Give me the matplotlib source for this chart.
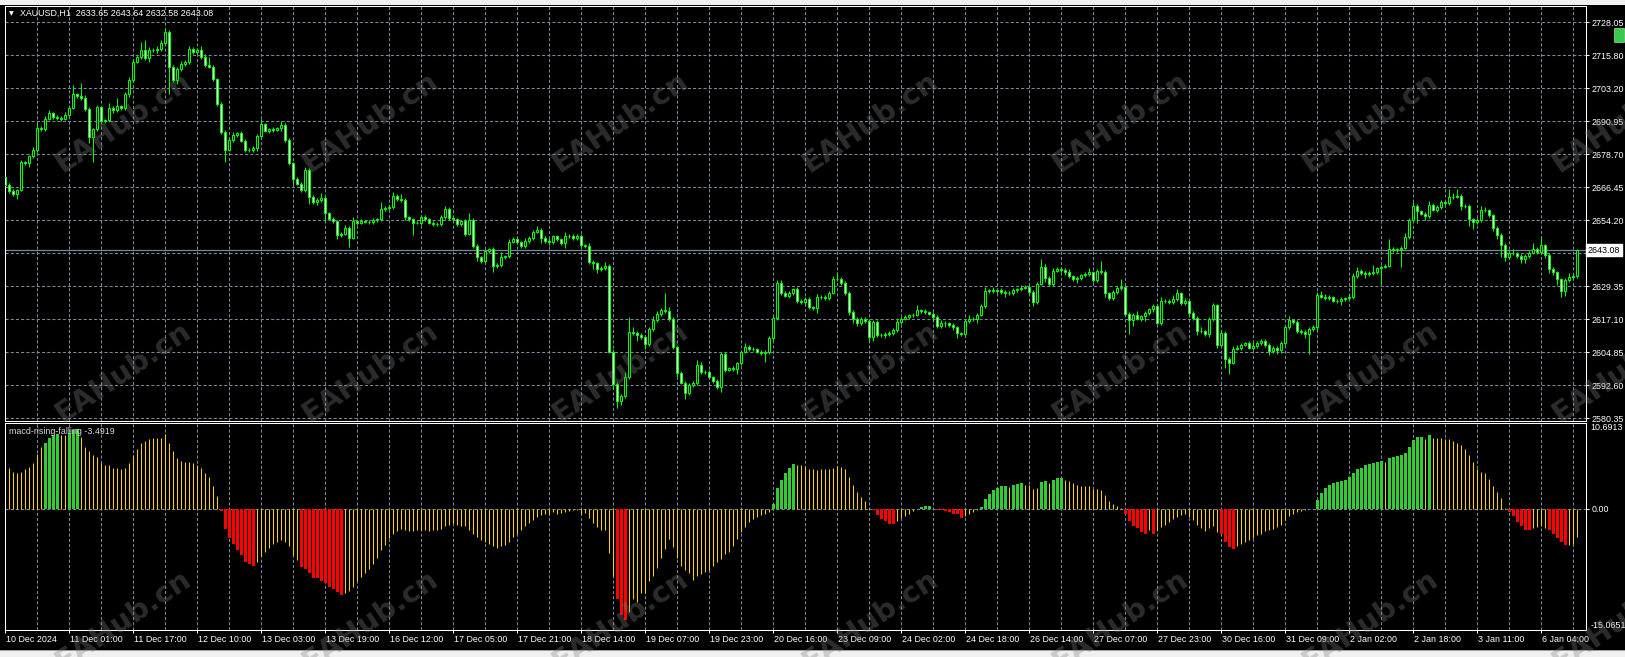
import numpy as np
import matplotlib.pyplot as plt
from matplotlib.patches import Rectangle, FancyBboxPatch

plt.rcParams['font.family'] = ['Liberation Sans', 'DejaVu Sans']

# ---- data (XAUUSD H1, 394 bars) ----
first_open = 2670.4
close = [
    2667.5, 2665.2, 2664.0, 2665.5, 2675.8, 2675.5, 2678.1, 2680.6, 2688.7, 2688.2, 2692.2, 2694.3, 2692.8, 2692.5, 2692.2, 2693.7, 2696.1, 2701.2, 2700.6, 2700.0,
    2695.8, 2685.2, 2688.2, 2696.4, 2691.2, 2691.6, 2696.1, 2695.2, 2696.7, 2696.1, 2701.2, 2706.7, 2713.4, 2715.2, 2717.9, 2714.9, 2717.9, 2717.6, 2718.2, 2720.3,
    2724.6, 2711.4, 2706.4, 2710.6, 2712.5, 2713.4, 2718.2, 2717.0, 2717.9, 2715.2, 2712.2, 2711.5, 2706.9, 2697.8, 2687.2, 2680.6, 2684.1, 2686.1, 2686.7, 2684.0,
    2680.6, 2680.4, 2681.2, 2685.6, 2690.0, 2687.6, 2688.2, 2688.0, 2688.5, 2689.7, 2684.1, 2675.5, 2669.7, 2667.9, 2665.5, 2673.1, 2662.9, 2660.9, 2661.9, 2662.5,
    2656.9, 2654.9, 2653.8, 2648.8, 2649.3, 2651.5, 2647.8, 2653.8, 2653.4, 2654.0, 2653.7, 2653.6, 2654.3, 2654.6, 2658.4, 2658.8, 2659.1, 2663.4, 2662.2, 2661.8,
    2655.3, 2654.6, 2653.4, 2653.3, 2655.5, 2654.6, 2653.4, 2653.0, 2652.9, 2655.5, 2658.5, 2655.2, 2654.6, 2652.8, 2653.8, 2649.3, 2654.3, 2644.7, 2640.6, 2639.1,
    2642.8, 2643.4, 2637.3, 2637.6, 2640.6, 2640.9, 2646.3, 2647.3, 2646.1, 2644.6, 2646.7, 2647.6, 2650.0, 2650.8, 2647.8, 2646.7, 2646.1, 2648.2, 2647.3, 2645.8,
    2648.5, 2648.2, 2647.6, 2648.5, 2645.0, 2644.6, 2638.7, 2638.2, 2636.1, 2636.4, 2637.1, 2605.3, 2593.2, 2586.7, 2588.7, 2595.8, 2612.5, 2612.2, 2611.3, 2610.6,
    2608.2, 2613.7, 2617.0, 2619.4, 2620.6, 2620.3, 2617.6, 2606.9, 2597.3, 2593.7, 2589.7, 2592.8, 2593.4, 2600.3, 2597.8, 2597.6, 2595.8, 2594.3, 2592.2, 2604.3,
    2598.5, 2599.1, 2598.8, 2600.9, 2605.2, 2607.0, 2606.4, 2606.1, 2605.2, 2604.9, 2605.2, 2610.3, 2617.9, 2630.9, 2627.0, 2626.1, 2627.0, 2628.5, 2624.0, 2623.9,
    2624.9, 2621.9, 2621.6, 2625.8, 2625.5, 2625.2, 2627.3, 2632.5, 2632.2, 2630.9, 2627.0, 2620.0, 2617.6, 2615.8, 2617.6, 2616.7, 2610.9, 2616.4, 2611.6, 2611.5,
    2611.9, 2612.2, 2613.4, 2616.4, 2617.6, 2618.2, 2618.8, 2619.1, 2620.6, 2620.3, 2620.0, 2619.4, 2618.2, 2614.9, 2616.1, 2615.8, 2615.2, 2614.3, 2612.2, 2612.0,
    2616.7, 2617.3, 2617.6, 2619.1, 2622.2, 2627.9, 2628.2, 2627.9, 2628.2, 2627.6, 2627.3, 2627.0, 2628.2, 2628.5, 2629.1, 2629.4, 2627.6, 2623.7, 2630.6, 2637.0,
    2632.8, 2630.6, 2635.5, 2636.1, 2635.8, 2634.9, 2633.4, 2632.2, 2632.8, 2633.7, 2634.3, 2634.9, 2631.9, 2635.2, 2634.9, 2627.0, 2625.2, 2627.6, 2629.1, 2629.4,
    2619.4, 2617.0, 2618.8, 2617.6, 2618.5, 2619.7, 2621.2, 2622.2, 2616.1, 2624.0, 2624.3, 2623.7, 2624.9, 2627.0, 2623.4, 2624.3, 2619.7, 2617.9, 2613.1, 2612.8,
    2611.9, 2617.3, 2622.5, 2607.6, 2612.2, 2602.5, 2601.2, 2606.4, 2606.7, 2607.9, 2608.4, 2606.7, 2607.3, 2608.5, 2609.4, 2607.9, 2605.5, 2606.7, 2605.8, 2608.5,
    2614.3, 2617.0, 2616.4, 2613.1, 2612.5, 2611.9, 2613.7, 2614.3, 2626.4, 2625.8, 2625.2, 2625.5, 2624.3, 2624.0, 2624.9, 2625.2, 2625.8, 2633.4, 2635.2, 2634.6,
    2634.3, 2634.6, 2634.9, 2636.4, 2637.0, 2637.3, 2643.4, 2643.1, 2643.4, 2644.0, 2647.9, 2654.3, 2659.7, 2657.6, 2656.7, 2655.8, 2660.0, 2658.2, 2659.1, 2660.9,
    2660.6, 2662.8, 2663.1, 2663.4, 2659.4, 2659.7, 2654.6, 2653.7, 2654.3, 2658.2, 2657.9, 2656.1, 2651.2, 2648.8, 2644.9, 2640.6, 2642.2, 2642.0, 2640.9, 2639.7,
    2640.9, 2642.2, 2643.4, 2642.5, 2644.9, 2641.2, 2636.1, 2634.9, 2632.2, 2627.9, 2631.9, 2633.1, 2633.65, 2643.08,
]
wick_up = [
    1.5, 0.6, 0.8, 0.5, 1.0, 0.7, 0.5, 0.9, 2.0, 0.6, 1.0, 1.2, 0.4, 0.6, 0.5, 0.8, 1.0, 3.4, 0.6, 5.0,
    0.8, 0.7, 0.5, 1.0, 0.6, 0.5, 2.0, 0.7, 3.3, 0.6, 0.8, 1.0, 1.0, 0.6, 3.0, 3.6, 0.8, 0.7, 0.9, 1.2,
    1.5, 0.6, 0.8, 0.7, 1.0, 0.6, 1.0, 0.8, 0.7, 1.5, 1.0, 3.0, 0.8, 0.6, 0.7, 0.8, 1.0, 1.0, 0.6, 0.8,
    0.6, 0.5, 0.7, 0.9, 2.0, 0.6, 0.5, 0.7, 0.6, 1.5, 0.8, 0.7, 0.6, 0.8, 0.6, 1.0, 0.7, 0.6, 0.5, 2.0,
    0.8, 0.6, 0.5, 0.7, 0.6, 1.0, 0.7, 1.5, 0.6, 0.8, 0.5, 0.6, 0.7, 0.5, 2.5, 0.6, 0.7, 1.5, 0.8, 2.0,
    0.6, 0.7, 0.5, 0.6, 0.8, 0.6, 0.5, 0.6, 0.7, 0.8, 1.0, 0.6, 0.7, 0.5, 0.6, 0.8, 2.5, 0.7, 0.6, 0.5,
    0.8, 0.6, 0.7, 0.6, 2.0, 0.5, 1.0, 0.7, 0.6, 0.5, 0.8, 0.7, 0.6, 1.5, 0.7, 0.6, 0.8, 0.7, 0.6, 0.5,
    1.5, 0.6, 0.8, 0.7, 0.6, 0.5, 1.0, 0.7, 0.6, 0.8, 1.5, 1.0, 0.8, 0.7, 0.6, 2.0, 5.7, 2.0, 0.7, 0.8,
    0.6, 0.8, 1.5, 0.9, 0.8, 6.5, 1.5, 0.7, 0.6, 0.8, 0.7, 0.6, 1.0, 2.0, 1.0, 0.6, 0.7, 0.5, 0.8, 0.7,
    0.8, 0.6, 0.7, 0.6, 0.8, 1.5, 0.6, 0.7, 0.5, 0.6, 0.8, 0.7, 0.6, 1.0, 1.0, 0.7, 0.8, 0.6, 0.7, 0.8,
    0.6, 0.7, 0.5, 0.8, 0.6, 1.0, 0.7, 1.0, 2.4, 1.0, 0.6, 0.7, 0.8, 0.6, 0.7, 0.5, 0.8, 0.7, 0.6, 0.5,
    0.6, 0.7, 0.5, 1.5, 0.6, 0.8, 0.6, 0.7, 2.0, 0.6, 0.7, 0.5, 0.6, 0.7, 0.8, 0.6, 0.5, 0.7, 0.6, 0.5,
    0.7, 1.5, 0.6, 0.7, 0.8, 1.5, 0.6, 1.0, 0.5, 0.7, 0.6, 0.5, 0.8, 0.6, 1.0, 0.7, 0.6, 0.8, 0.7, 2.7,
    0.8, 0.6, 1.0, 0.7, 0.6, 0.8, 1.0, 0.6, 0.7, 0.5, 0.8, 1.5, 0.6, 1.0, 3.7, 0.7, 0.6, 0.8, 0.7, 3.0,
    0.6, 0.7, 0.8, 1.5, 0.6, 0.7, 0.5, 0.8, 0.6, 1.5, 0.7, 0.6, 1.5, 1.5, 0.6, 0.8, 0.7, 0.6, 0.5, 1.5,
    0.7, 0.8, 1.0, 0.6, 1.0, 0.7, 0.6, 0.8, 1.0, 0.7, 0.6, 1.0, 1.5, 0.8, 0.7, 0.6, 0.5, 0.8, 0.6, 0.7,
    0.8, 1.5, 0.6, 0.7, 0.6, 0.8, 0.7, 1.0, 1.0, 1.5, 0.8, 1.0, 0.6, 0.7, 0.8, 0.6, 1.0, 1.0, 1.5, 0.7,
    0.6, 0.8, 2.5, 0.6, 0.7, 0.8, 4.0, 0.7, 0.6, 0.8, 1.5, 0.8, 1.5, 0.7, 0.6, 0.8, 1.5, 0.7, 1.0, 0.8,
    0.7, 3.2, 1.5, 2.5, 0.8, 0.6, 0.7, 0.6, 0.8, 1.5, 1.0, 0.7, 0.6, 0.8, 0.6, 0.7, 0.8, 1.5, 0.6, 0.7,
    0.8, 0.6, 2.5, 0.7, 3.0, 0.6, 0.7, 0.8, 0.6, 0.7, 0.8, 1.5, 0.5, 0.56,
]
wick_dn = [
    1.0, 0.8, 0.6, 2.0, 0.5, 0.7, 1.5, 0.6, 1.0, 0.8, 0.5, 0.7, 0.6, 0.8, 0.9, 0.6, 0.7, 0.5, 0.8, 1.0,
    0.7, 2.0, 9.1, 0.6, 0.8, 0.7, 0.6, 0.8, 0.5, 0.7, 0.6, 0.8, 0.7, 0.6, 0.8, 0.7, 1.5, 0.6, 0.8, 0.7,
    0.6, 10.2, 0.5, 1.5, 0.7, 0.6, 0.8, 0.7, 0.6, 0.8, 0.7, 0.6, 0.8, 1.0, 0.7, 4.5, 0.6, 0.8, 0.7, 0.6,
    0.8, 0.7, 0.6, 1.0, 0.7, 0.6, 0.8, 0.7, 0.6, 0.8, 0.7, 0.8, 2.0, 0.6, 0.8, 0.7, 2.5, 0.6, 0.8, 0.7,
    3.0, 0.7, 0.6, 1.5, 0.8, 0.7, 3.5, 0.6, 0.8, 0.7, 0.6, 0.8, 0.7, 0.6, 0.8, 0.7, 0.6, 0.8, 0.7, 0.6,
    0.8, 0.7, 4.6, 0.6, 0.8, 0.7, 0.6, 0.8, 0.7, 0.6, 0.8, 0.7, 0.6, 0.8, 0.7, 1.0, 0.6, 0.8, 1.5, 0.7,
    0.6, 0.8, 2.5, 0.7, 0.6, 0.8, 0.7, 0.6, 0.8, 0.7, 0.6, 0.8, 0.7, 0.6, 2.0, 0.8, 1.0, 0.6, 0.8, 0.7,
    2.0, 0.7, 0.6, 0.8, 0.7, 0.6, 0.8, 2.0, 1.5, 0.7, 0.8, 0.7, 2.0, 2.6, 1.5, 0.8, 0.7, 0.6, 2.0, 0.7,
    2.0, 0.7, 0.6, 0.8, 0.7, 0.6, 0.8, 0.7, 1.5, 0.6, 2.0, 0.8, 0.7, 0.6, 0.8, 0.7, 0.6, 0.8, 0.7, 2.0,
    0.7, 0.6, 0.8, 2.0, 0.7, 0.6, 0.8, 0.7, 0.6, 0.8, 3.4, 0.7, 0.6, 0.8, 0.7, 0.6, 0.8, 0.7, 0.6, 0.8,
    0.7, 0.6, 0.8, 2.0, 0.7, 0.6, 0.8, 0.7, 0.6, 0.8, 0.7, 1.0, 1.5, 0.8, 0.7, 0.6, 2.0, 1.5, 0.7, 0.6,
    1.0, 0.7, 0.6, 0.8, 0.7, 0.6, 0.8, 0.7, 0.6, 0.8, 0.7, 0.6, 1.5, 0.8, 0.7, 1.5, 0.6, 0.8, 2.0, 1.0,
    0.7, 0.6, 0.8, 1.5, 0.7, 0.6, 0.8, 0.7, 0.6, 0.8, 1.5, 0.7, 0.6, 0.8, 0.7, 0.6, 1.0, 1.5, 0.7, 0.6,
    1.5, 0.8, 0.7, 0.6, 0.8, 1.0, 0.7, 0.6, 1.5, 0.7, 0.6, 0.8, 0.7, 0.6, 0.8, 1.5, 0.7, 0.6, 0.8, 0.7,
    0.6, 5.0, 2.0, 0.7, 0.8, 2.0, 0.6, 1.0, 0.7, 0.8, 0.6, 0.7, 0.8, 0.6, 0.7, 0.8, 1.5, 0.7, 1.5, 0.6,
    0.8, 1.0, 0.7, 1.0, 0.6, 3.5, 4.2, 0.7, 0.6, 0.8, 0.7, 0.6, 0.8, 0.7, 0.6, 0.8, 1.5, 0.7, 1.5, 1.0,
    0.7, 0.6, 0.8, 1.0, 0.7, 1.5, 7.5, 0.6, 0.8, 0.7, 0.6, 0.8, 0.7, 0.6, 1.5, 0.7, 0.6, 0.8, 0.7, 0.6,
    1.5, 0.7, 0.6, 0.8, 5.8, 0.7, 0.6, 0.8, 0.7, 6.5, 0.6, 0.8, 0.7, 4.2, 0.6, 1.5, 0.7, 0.6, 0.8, 0.7,
    0.6, 0.8, 0.7, 0.6, 1.5, 0.7, 2.5, 2.6, 0.8, 0.7, 0.6, 0.8, 1.0, 1.5, 4.5, 1.5, 0.7, 0.6, 0.8, 1.5,
    1.5, 0.7, 0.6, 0.8, 0.7, 1.0, 1.5, 1.0, 2.0, 2.3, 2.0, 0.7, 0.6, 1.07,
]

# macd-rising-falling histogram, one value per bar
macd = [
    5.9, 5.1, 4.6, 4.4, 4.6, 4.9, 5.2, 5.7, 6.8, 7.7,
    8.2, 8.8, 9.2, 9.3, 9.2, 9.2, 9.5, 9.8, 9.9, 9.0,
    7.7, 7.2, 6.7, 6.4, 5.7, 5.4, 5.4, 5.1, 5.1, 4.9,
    5.1, 5.7, 6.7, 7.5, 8.2, 8.5, 8.7, 8.8, 8.8, 8.8,
    9.3, 8.2, 7.2, 6.3, 5.9, 5.8, 5.8, 5.7, 5.4, 5.1,
    4.5, 3.9, 2.8, 1.6, -0.3, -2.5, -3.7, -4.4, -5.1, -5.8,
    -6.6, -6.9, -7.1, -6.7, -5.9, -5.4, -4.9, -4.4, -4.1, -3.9,
    -4.1, -4.6, -5.8, -6.4, -7.3, -7.5, -8.0, -8.6, -8.7, -9.0,
    -9.3, -9.8, -10.0, -10.4, -10.7, -10.5, -10.3, -9.8, -9.0, -8.5,
    -8.0, -7.5, -6.9, -6.1, -5.2, -4.5, -3.7, -3.1, -2.8, -2.5,
    -2.6, -2.8, -2.8, -2.7, -2.6, -2.7, -2.8, -2.7, -2.6, -2.5,
    -2.2, -2.0, -1.8, -2.0, -2.1, -2.2, -2.6, -3.1, -3.5, -3.9,
    -4.1, -4.4, -4.6, -4.9, -4.7, -4.5, -4.1, -3.5, -3.1, -2.6,
    -2.2, -1.8, -1.4, -1.0, -0.8, -0.6, -0.6, -0.4, -0.6, -0.5,
    -0.4, -0.3, -0.2, -0.1, -0.6, -0.5, -1.2, -1.8, -2.3, -2.6,
    -2.7, -5.5, -8.4, -11.3, -13.2, -13.9, -12.9, -11.3, -11.6, -10.5,
    -10.5, -9.0, -8.4, -7.4, -6.1, -5.0, -3.8, -4.8, -6.1, -7.1,
    -7.6, -8.0, -8.9, -8.4, -8.2, -7.9, -7.6, -7.1, -6.7, -6.3,
    -5.7, -5.4, -4.6, -3.8, -2.9, -2.3, -1.7, -1.3, -1.05, -0.8,
    -0.6, -0.4, 0.6, 2.6, 3.6, 4.5, 5.1, 5.6, 5.5, 5.5,
    5.3, 5.0, 5.0, 4.8, 4.9, 4.9, 4.9, 5.1, 5.3, 5.2,
    4.9, 3.9, 3.0, 2.1, 1.5, 1.0, 0.1, -0.2, -0.8, -1.3,
    -1.55, -1.85, -1.85, -1.55, -1.2, -0.9, -0.6, -0.3, -0.05, 0.17,
    0.3, 0.3, -0.05, -0.17, -0.17, -0.3, -0.45, -0.6, -0.7, -1.2,
    -0.9, -0.6, -0.4, -0.1, 0.25, 1.2, 1.8, 2.3, 2.6, 2.8,
    2.8, 2.65, 2.9, 3.1, 3.2, 3.0, 2.9, 2.5, 2.6, 3.3,
    3.4, 3.2, 3.6, 3.8, 3.8, 3.6, 3.4, 3.2, 3.0, 2.8,
    2.8, 2.8, 2.5, 2.5, 2.3, 1.7, 1.0, 0.55, 0.4, 0.05,
    -0.6, -1.55, -2.1, -2.4, -2.9, -3.1, -2.7, -3.2, -2.7, -2.3,
    -2.0, -1.6, -1.3, -1.0, -0.8, -0.7, -1.05, -1.35, -2.0, -2.4,
    -2.8, -2.4, -2.2, -2.9, -3.2, -4.1, -4.8, -5.0, -4.6, -4.4,
    -4.1, -3.9, -3.6, -3.3, -3.1, -2.8, -2.6, -2.5, -2.3, -2.0,
    -1.4, -0.9, -0.6, -0.4, -0.25, -0.1, -0.03, -0.02, 1.1, 2.0,
    2.6, 3.0, 3.2, 3.3, 3.5, 3.6, 3.9, 4.4, 4.9, 5.1,
    5.4, 5.6, 5.7, 5.8, 5.9, 5.8, 6.3, 6.4, 6.6, 6.7,
    6.9, 7.7, 8.6, 9.0, 9.0, 8.7, 9.15, 8.8, 8.8, 8.8,
    8.7, 8.7, 8.5, 8.2, 8.0, 7.5, 6.7, 5.8, 4.9, 4.6,
    4.4, 3.7, 2.8, 2.1, 1.3, 0.1, -0.4, -0.9, -1.7, -2.2,
    -2.6, -2.6, -2.4, -2.3, -2.1, -2.4, -2.7, -3.15, -3.6, -4.1,
    -4.5, -4.5, -4.4, -3.4919,
]
# bar colour per bar: Y = gold line, G = green bar, R = red bar
macd_col = ('Y' * 10 + 'G' * 4 + 'Y' * 2 + 'G' * 3 + 'Y' * 35 + 'R' * 9 + 'Y' * 11 + 'R' * 11
            + 'Y' * 68 + 'R' * 3 + 'Y' * 36 + 'G' * 6 + 'Y' * 19 + 'R' * 6 + 'Y' * 6 + 'G' * 3
            + 'Y' + 'R' * 7 + 'Y' * 4 + 'G' * 7 + 'Y' + 'G' * 3 + 'Y' * 4 + 'G' * 2 + 'Y' + 'G' * 3
            + 'Y' * 15 + 'R' * 6 + 'Y' + 'R' + 'Y' * 16 + 'R' * 4 + 'Y' * 20 + 'G' * 17 + 'Y'
            + 'G' * 9 + 'Y' + 'G' + 'Y' * 19 + 'R' * 6 + 'Y' * 4 + 'R' * 5 + 'Y' * 3)

time_labels = ["10 Dec 2024", "11 Dec 01:00", "11 Dec 17:00", "12 Dec 10:00", "13 Dec 03:00",
               "13 Dec 19:00", "16 Dec 12:00", "17 Dec 05:00", "17 Dec 21:00", "18 Dec 14:00",
               "19 Dec 07:00", "19 Dec 23:00", "20 Dec 16:00", "23 Dec 09:00", "24 Dec 02:00",
               "24 Dec 18:00", "26 Dec 14:00", "27 Dec 07:00", "27 Dec 23:00", "30 Dec 16:00",
               "31 Dec 09:00", "2 Jan 02:00", "2 Jan 18:00", "3 Jan 11:00", "6 Jan 04:00"]
price_labels = ["2728.05", "2715.80", "2703.20", "2690.95", "2678.70", "2666.45", "2654.20",
                "", "2629.35", "2617.10", "2604.85", "2592.60", "2580.35"]
last_price = 2643.08
ind_max, ind_min = 10.6913, -15.0651

# ---- layout (pixel based, MT4 look) ----
W, H = 1625, 657
LIME = '#00FF00'
GOLD = '#FFD000'
GREEN = '#32CD32'
RED = '#FF0000'
GRID = '#778899'
FS = 6.4

fig = plt.figure(figsize=(W / 100, H / 100), dpi=100, facecolor='black')


def box(l, t, r, b):
    return [l / W, 1 - b / H, (r - l) / W, (b - t) / H]


ax = fig.add_axes(box(4.5, 6, 1586, 420.5), facecolor='black')
ax2 = fig.add_axes(box(4.5, 423, 1586, 629.5), facecolor='black')
xlim = (-0.2, 395.175)

close = np.array(close)
n = len(close)
x = np.arange(n)
op = np.r_[first_open, close[:-1]]
hi = np.maximum(op, close) + np.array(wick_up)
lo = np.minimum(op, close) - np.array(wick_dn)

# grid
tick_vals = 2728.05 - np.arange(13) * (2728.05 - 2580.35) / 12
gkw = dict(color=GRID, lw=0.75, ls=(0, (3, 2)), zorder=0)
for v in tick_vals:
    ax.axhline(v, **gkw)
for xi in range(8, n, 8):
    ax.axvline(xi, **gkw)
    ax2.axvline(xi, **gkw)
ax.axhline(last_price, color=GRID, lw=0.9, zorder=1)

# candles
ax.vlines(x, lo, hi, color=LIME, lw=0.75, zorder=2)
bull = close >= op
ax.bar(x, close - op, bottom=op, width=0.5, color=np.where(bull, 'black', 'white'),
       edgecolor=LIME, linewidth=0.75, zorder=3)

ax.set_xlim(*xlim)
ax.set_ylim(2579.57, 2734.17)
ax.set_xticks([])
ax.yaxis.tick_right()
keep = [k for k in range(13) if price_labels[k]]
ax.set_yticks(tick_vals[keep], [price_labels[k] for k in keep])
ax.tick_params(axis='y', colors='white', length=2.2, width=0.75, pad=2, labelsize=FS)
for s in ax.spines.values():
    s.set_color('white')
    s.set_linewidth(0.75)
ax.text(1.0012, last_price, f'{last_price:.2f}', transform=ax.get_yaxis_transform(),
        ha='left', va='center', fontsize=FS, color='black', clip_on=False,
        bbox=dict(boxstyle='square,pad=0.18', fc='white', ec='white'))

# indicator histogram
macd = np.array(macd)
cols = np.array(list(macd_col))
hx = np.arange(len(macd))
ax2.axhline(0, **gkw)
g = cols == 'Y'
ax2.vlines(hx[g], 0, macd[g], color=GOLD, lw=0.75, zorder=2)
for code, c in (('G', GREEN), ('R', RED)):
    m = cols == code
    ax2.bar(hx[m], macd[m], width=0.75, color=c, linewidth=0, zorder=3)
ax2.set_xlim(*xlim)
ax2.set_ylim(ind_min, ind_max)
ax2.yaxis.tick_right()
ax2.set_yticks([0], ['0.00'])
ax2.tick_params(axis='y', colors='white', length=2.2, width=0.75, pad=2, labelsize=FS)
ax2.text(1.003, ind_max, f'{ind_max:.4f}', transform=ax2.get_yaxis_transform(), ha='left',
         va='top', fontsize=FS, color='white', clip_on=False)
ax2.text(1.003, ind_min, f'{ind_min:.4f}', transform=ax2.get_yaxis_transform(), ha='left',
         va='bottom', fontsize=FS, color='white', clip_on=False)
ax2.set_xticks(np.arange(len(time_labels)) * 16, [''] * len(time_labels))
ax2.tick_params(axis='x', colors='white', length=2.5, width=0.75, direction='out')
for k, lab in enumerate(time_labels):
    ax2.text(16 * k + 0.2, -0.062, lab, transform=ax2.get_xaxis_transform(), ha='left',
             va='baseline', fontsize=FS, color='white', clip_on=False)
for s in ax2.spines.values():
    s.set_color('white')
    s.set_linewidth(0.75)

# titles
fig.text(20 / W, 1 - 13.5 / H, 'XAUUSD,H1  2633.65 2643.64 2632.58 2643.08', color='white',
         fontsize=FS, ha='left', va='center')
fig.text(11.5 / W, 1 - 13.5 / H, '\u25BC', color='white', fontsize=4.5, ha='center',
         va='center', family='DejaVu Sans')
fig.text(9.3 / W, 1 - 432 / H, 'macd-rising-falling -3.4919', color='#D8D8D8', fontsize=FS,
         ha='left', va='center')

# window chrome
fig.patches.append(Rectangle((0, 1 - 4.5 / H), 1, 4.5 / H, transform=fig.transFigure,
                             fc='#F0F0F0', ec='none', zorder=5))
fig.patches.append(Rectangle((0, 0), 1, 6 / H, transform=fig.transFigure,
                             fc='#F0F0F0', ec='none', zorder=5))
fig.patches.append(Rectangle((0, 6 / H), 1, 1 / H, transform=fig.transFigure,
                             fc='#A0A0A0', ec='none', zorder=5))
fig.patches.append(FancyBboxPatch((1616 / W, 1 - 42 / H), 7 / W, 13 / H,
                                  boxstyle='round,pad=0.001', transform=fig.transFigure,
                                  fc='#3CC84A', ec='#88E090', lw=0.5, zorder=5))

# watermark
for wx in (123, 370, 620, 870, 1120, 1370, 1620):
    for wy in (122, 372, 620):
        fig.text(wx / W, 1 - wy / H, 'EAHub.cn', rotation=34, rotation_mode='anchor',
                 ha='center', va='center', fontsize=21, fontweight='bold',
                 family='DejaVu Sans', color='#808080', alpha=0.34, zorder=10)

fig.savefig('out.png', dpi=100, facecolor='black')
